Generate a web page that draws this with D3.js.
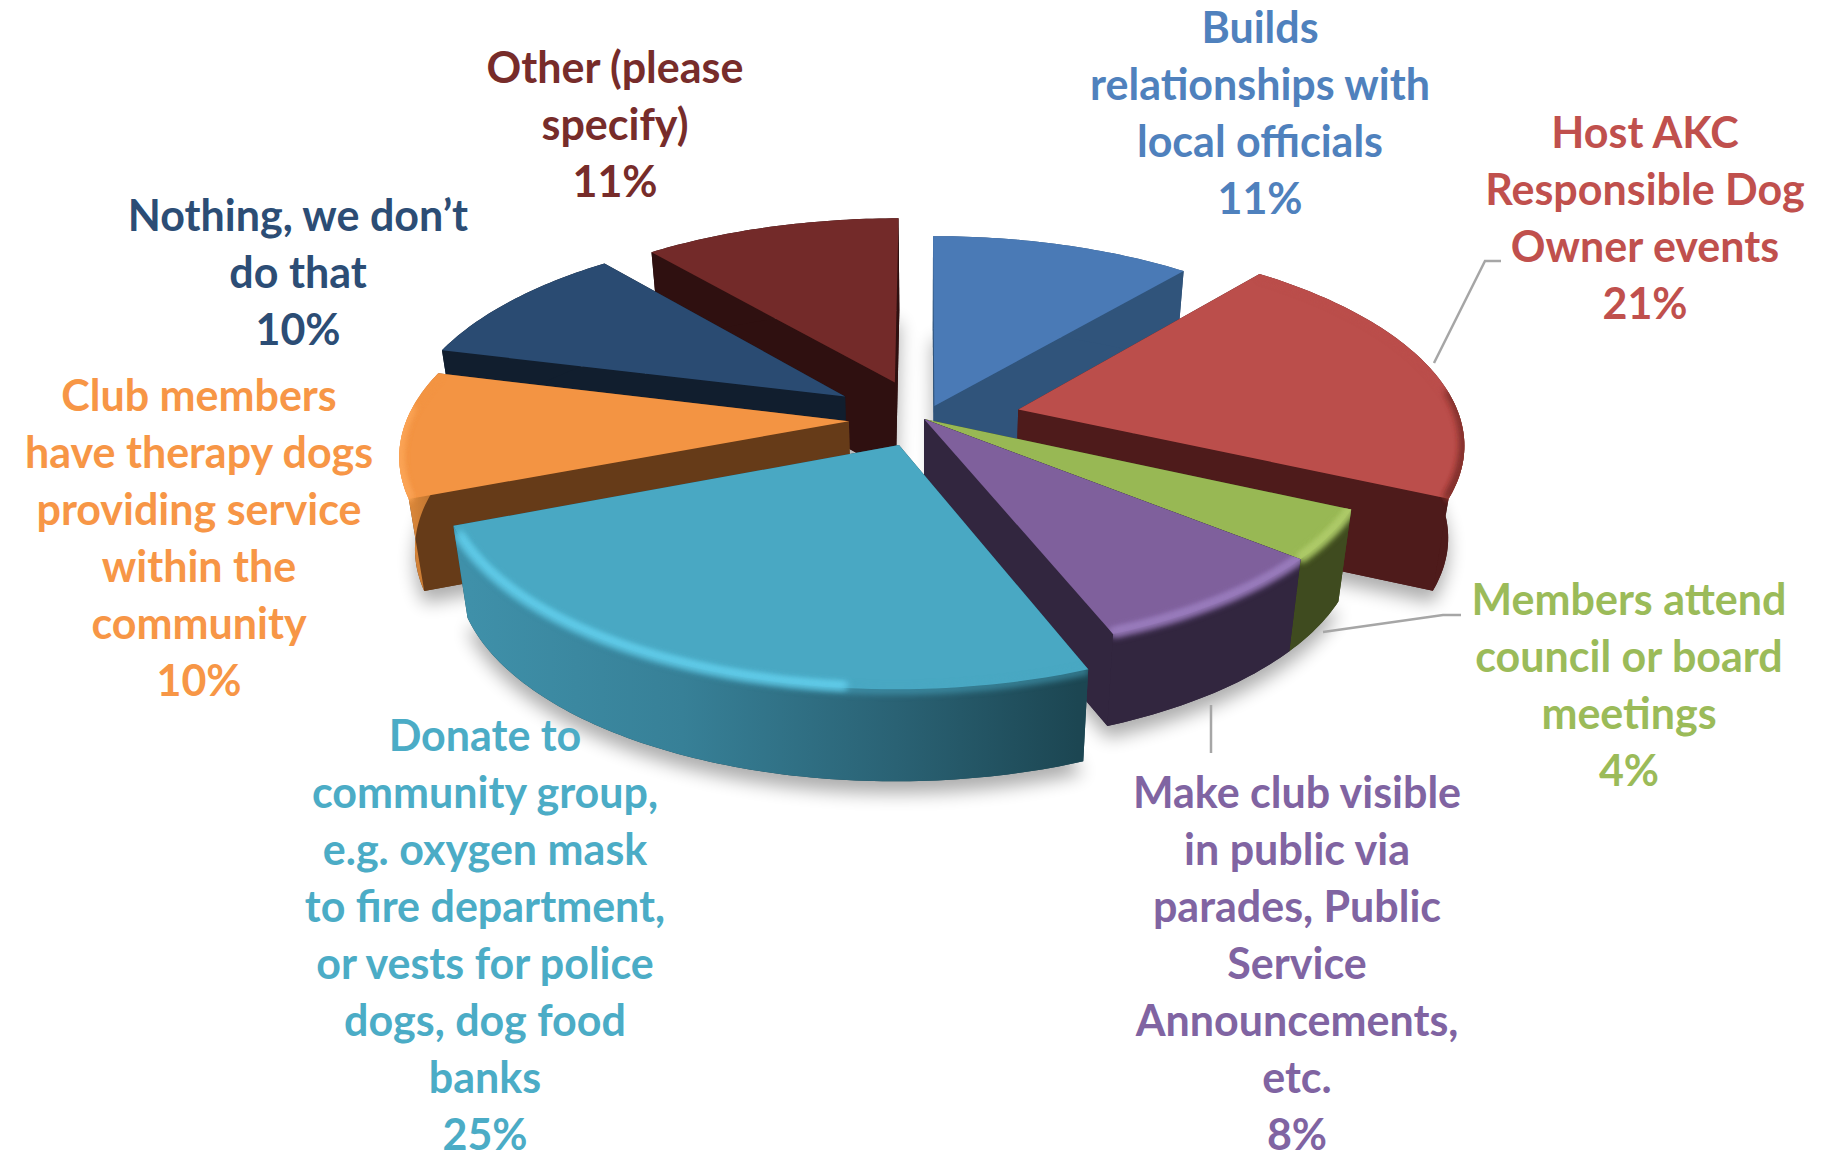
<!DOCTYPE html>
<html><head><meta charset="utf-8">
<script src="https://cdn.jsdelivr.net/npm/d3@7"></script>
<style>html,body{margin:0;padding:0;background:#fff}svg{display:block}</style>
</head><body>
<svg id="c" width="1836" height="1151"></svg>
<script>
// ---- data ----
const categories = ["Builds relationships with local officials","Host AKC Responsible Dog Owner events","Members attend council or board meetings","Make club visible in public via parades, Public Service Announcements, etc.","Donate to community group, e.g. oxygen mask to fire department, or vests for police dogs, dog food banks","Club members have therapy dogs providing service within the community","Nothing, we don’t do that","Other (please specify)"];
const values = [11,21,4,8,25,10,10,11];
const labelLines = [
 ["Builds","relationships with","local officials"],
 ["Host AKC","Responsible Dog","Owner events"],
 ["Members attend","council or board","meetings"],
 ["Make club visible","in public via","parades, Public","Service","Announcements,","etc."],
 ["Donate to","community group,","e.g. oxygen mask","to fire department,","or vests for police","dogs, dog food","banks"],
 ["Club members","have therapy dogs","providing service","within the","community"],
 ["Nothing, we don’t","do that"],
 ["Other (please","specify)"]
];
// ---- style / layout ----
const explode  = [.07,.22,0,0,.14,.17,.215,.2];
const topColor = ["#4a7ab6","#bb4e4b","#98b854","#7f609c","#49a8c3","#f39443","#2a4b72","#732a29"];
const textColor= ["#4f81bd","#c0504d","#9bbb59","#8064a2","#4bacc6","#f79646","#2c4d75","#772c2a"];
const sideColor= ["#30547b","#4e1b1b","#3f4b1f","#32263f","#1d4754","#663b18","#111e2e","#2f1010"];
const arcColor = ["#30547b","#4e1b1b","#3f4b1f","#32263f","url(#tealWall)","url(#orangeWall)","#111e2e","#2f1010"];
const bevel    = [null,"#6e2624","#b5d070","#a184c6","#66d4f2","#ffab5e",null,null];
const bevelSpan= [null,[.6,1],[0,1],[0,1],[.3,.97],[0,.7],null,null];
const drawOrder= [0,7,6,1,5,2,3,4];
const labelCx  = [1260,1645,1629,1297,485,199,298,615];
const labelTop = [28,133,600,793,736,396,216,68];
const lineGap = 57, fontSize = 43;
const leaders = [null,[[1434,363],[1485,261],[1501,261]],[[1323,632],[1443,615],[1461,615]],[[1211,705],[1211,753]],null,null,null,null];

const cx=924, cy=419, R=442, A=199, q=.15, T=92, shrink=.97;
function project(X,Y,z){const w=1-q*Y;return [cx+R*X/w*(z?shrink:1), cy+A*Y/w+(z?T:0)];}

const svg=d3.select("#c");
const defs=svg.append("defs");
const tg=defs.append("linearGradient").attr("id","tealWall").attr("gradientUnits","userSpaceOnUse").attr("x1",470).attr("x2",1078).attr("y1",0).attr("y2",0);
[[0,"#3f90a9"],[.35,"#378097"],[.7,"#2a6274"],[1,"#1c4652"]].forEach(s=>tg.append("stop").attr("offset",s[0]).attr("stop-color",s[1]));
const og=defs.append("linearGradient").attr("id","orangeWall").attr("gradientUnits","userSpaceOnUse").attr("x1",400).attr("x2",440).attr("y1",0).attr("y2",0);
[[0,"#e8913f"],[1,"#b56d2c"]].forEach(s=>og.append("stop").attr("offset",s[0]).attr("stop-color",s[1]));
defs.append("filter").attr("id","shadow").attr("x","-20%").attr("y","-20%").attr("width","140%").attr("height","140%")
  .append("feGaussianBlur").attr("stdDeviation",9);
defs.append("filter").attr("id","soft").attr("filterUnits","userSpaceOnUse").attr("x",0).attr("y",0).attr("width",1836).attr("height",1151)
  .append("feGaussianBlur").attr("stdDeviation",3);

const line=d3.line();
const arcs=d3.pie().sort(null)(values);

function geom(i){
  const a=arcs[i], m=(a.startAngle+a.endAngle)/2, e=explode[i];
  const ax=e*Math.sin(m), ay=-e*Math.cos(m);
  const n=Math.ceil((a.endAngle-a.startAngle)/(Math.PI/180));
  const ts=d3.range(n+1).map(k=>a.startAngle+(a.endAngle-a.startAngle)*k/n);
  const pt=(t,z)=>project(ax+Math.sin(t),ay-Math.cos(t),z);
  return {apexTop:project(ax,ay,0),apexBot:project(ax,ay,1),
    arcTop:ts.map(t=>pt(t,0)),arcBot:ts.map(t=>pt(t,1))};
}
const geoms=values.map((_,i)=>geom(i));

// soft ground shadow
const sh=svg.append("g").attr("filter","url(#shadow)").attr("transform","translate(0,12)").attr("opacity",.32);
geoms.forEach(g=>sh.append("path").attr("d",line([g.apexBot,...g.arcBot])+"Z").attr("fill","#000"));

// slices, back to front
drawOrder.forEach(i=>{
  const g=geoms[i], G=svg.append("g").attr("class","slice");
  const top=line([g.apexTop,...g.arcTop])+"Z";
  const aT=g.arcTop,bT=g.arcBot,L=aT.length-1;
  const wallPath=line([...aT,...bT.slice().reverse()])+"Z";
  const walls=[
    [g.apexTop,aT[0],bT[0],g.apexBot],
    [g.apexTop,aT[L],bT[L],g.apexBot]
  ].sort((u,v)=>(u[1][1])-(v[1][1]));
  G.append("path").attr("d",line([g.apexBot,...g.arcBot])+"Z").attr("fill",sideColor[i]);
  walls.forEach(w=>G.append("path").attr("d",line(w)+"Z").attr("fill",sideColor[i]));
  G.append("path").attr("d",wallPath).attr("fill",arcColor[i]);
  G.append("path").attr("d",top).attr("fill",topColor[i]);
  if(bevel[i]){
    const id="clip"+i;
    const cp=defs.append("clipPath").attr("id",id);
    cp.append("path").attr("d",top); cp.append("path").attr("d",wallPath);
    const span=aT.slice(Math.round(bevelSpan[i][0]*L),Math.round(bevelSpan[i][1]*L)+1);
    const B=G.append("g").attr("clip-path","url(#"+id+")");
    B.append("path").attr("d",line(span.map(p=>[p[0],p[1]-2]))).attr("fill","none")
      .attr("stroke",bevel[i]).attr("stroke-width",8).attr("stroke-linecap","round").attr("filter","url(#soft)");
    B.append("path").attr("d",line(aT.map(p=>[p[0],p[1]+1]))).attr("fill","none")
      .attr("stroke",topColor[i]).attr("stroke-width",8).attr("opacity",.6).attr("filter","url(#soft)");
    B.append("path").attr("d",line(span.map(p=>[p[0],p[1]-2]))).attr("fill","none")
      .attr("stroke",bevel[i]).attr("stroke-width",5).attr("opacity",.8).attr("filter","url(#soft)");
  }
});

// leader lines
leaders.forEach(l=>{ if(l) svg.append("path").attr("d",line(l)).attr("fill","none").attr("stroke","#a6a6a6").attr("stroke-width",2.5);});

// labels
const fmt=d3.format(".0f");
labelLines.forEach((ls,i)=>{
  const t=svg.append("text").attr("text-anchor","middle").attr("fill",textColor[i])
    .style("font-family","Lato, sans-serif").style("font-weight",700).style("font-size",fontSize+"px");
  [...ls,fmt(values[i])+"%"].forEach((s,k)=>{
    t.append("tspan").attr("x",labelCx[i]).attr("y",labelTop[i]+k*lineGap+fontSize*.34).text(s);
  });
});
</script>
</body></html>
